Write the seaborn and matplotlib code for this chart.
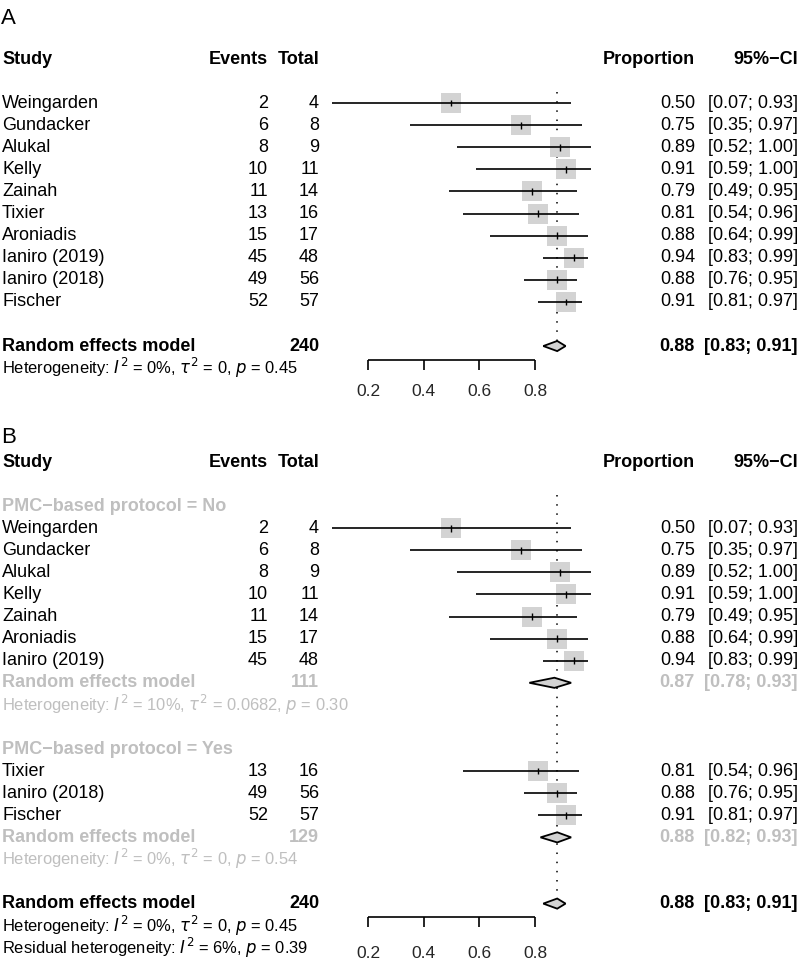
import numpy as np
import pandas as pd
import seaborn as sns
import matplotlib.pyplot as plt
from matplotlib.transforms import blended_transform_factory

# ---- data ----
studies = ['Weingarden', 'Gundacker', 'Alukal', 'Kelly', 'Zainah', 'Tixier',
           'Aroniadis', 'Ianiro (2019)', 'Ianiro (2018)', 'Fischer']
events = [2, 6, 8, 10, 11, 13, 15, 45, 49, 52]
totals = [4, 8, 9, 11, 14, 16, 17, 48, 56, 57]
prop = [0.50, 0.75, 0.89, 0.91, 0.79, 0.81, 0.88, 0.94, 0.88, 0.91]
ci_lo = [0.07, 0.35, 0.52, 0.59, 0.49, 0.54, 0.64, 0.83, 0.76, 0.81]
ci_hi = [0.93, 0.97, 1.00, 1.00, 0.95, 0.96, 0.99, 0.99, 0.95, 0.97]
pmc = ['No', 'No', 'No', 'No', 'No', 'Yes', 'No', 'No', 'Yes', 'Yes']

# pooled estimates: (est, lo, hi, total)
overall = (0.88, 0.83, 0.91, 240)
sub_no = (0.87, 0.78, 0.93, 111)
sub_yes = (0.88, 0.82, 0.93, 129)
ticks = [0.2, 0.4, 0.6, 0.8]

het_all = r'Heterogeneity: $I^2$ = 0%, $\tau^2$ = 0, $p$ = 0.45'
het_no = r'Heterogeneity: $I^2$ = 10%, $\tau^2$ = 0.0682, $p$ = 0.30'
het_yes = r'Heterogeneity: $I^2$ = 0%, $\tau^2$ = 0, $p$ = 0.54'
het_resid = r'Residual heterogeneity: $I^2$ = 6%, $p$ = 0.39'

df = pd.DataFrame(dict(study=studies, events=events, total=totals, prop=prop,
                       lo=ci_lo, hi=ci_hi, pmc=pmc))

sns.set_style('white')
plt.rcParams['font.family'] = ['Liberation Sans', 'DejaVu Sans']
plt.rcParams['mathtext.fontset'] = 'custom'
plt.rcParams['mathtext.rm'] = 'Liberation Sans Narrow'
plt.rcParams['mathtext.it'] = 'Liberation Sans Narrow:italic'
plt.rcParams['mathtext.bf'] = 'Liberation Sans Narrow:bold'

W, H = 800, 963
fig = plt.figure(figsize=(8, 9.63), dpi=100)
GREY = '#BFBFBF'
SQ = '#D3D3D3'
FS = 13
NARROW = ['Liberation Sans Narrow', 'Liberation Sans', 'DejaVu Sans']

# x mapping: 0 -> 312.3 px, 1 -> 590.6 px
px0, ppu = 312.3, 278.3
xlim = (-px0 / ppu, (W - px0) / ppu)
ROW = 22.08


def make_ax(top_px, bot_px, header_px):
    ax = fig.add_axes([0, 1 - bot_px / H, 1, (bot_px - top_px) / H])
    ax.set_xlim(*xlim)
    ax.set_ylim((bot_px - header_px) / ROW, (top_px - header_px) / ROW)
    ax.axis('off')
    return ax


def txt(ax, xpx, r, s, ha='left', color='black', bold=False, size=FS, family=None):
    tr = blended_transform_factory(fig.transFigure, ax.transData)
    ax.text(xpx / W, r, s, transform=tr, ha=ha, va='center', color=color,
            fontsize=size, fontweight='bold' if bold else 'normal',
            family=family if family else plt.rcParams['font.family'])


def header(ax):
    txt(ax, 2, 0, 'Study', bold=True)
    txt(ax, 268, 0, 'Events', ha='right', bold=True)
    txt(ax, 319, 0, 'Total', ha='right', bold=True)
    txt(ax, 695, 0, 'Proportion', ha='right', bold=True)
    txt(ax, 798, 0, '95%\u2212CI', ha='right', bold=True)


def study_rows(ax, sub, rows):
    sub = sub.assign(row=rows)
    sns.scatterplot(data=sub, x='prop', y='row', marker='s', s=200, color=SQ,
                    linewidth=0, ax=ax, zorder=2, legend=False)
    ax.hlines(sub['row'], sub['lo'], sub['hi'], color='black', lw=1.2, zorder=3)
    ax.vlines(sub['prop'], sub['row'] - 0.15, sub['row'] + 0.15, color='black',
              lw=1.0, zorder=3)
    for _, d in sub.iterrows():
        txt(ax, 2, d.row, d.study)
        txt(ax, 268, d.row, str(d.events), ha='right')
        txt(ax, 319, d.row, str(d.total), ha='right')
        txt(ax, 695, d.row, f'{d.prop:.2f}', ha='right')
        txt(ax, 798, d.row, f'[{d.lo:.2f}; {d.hi:.2f}]', ha='right')


def pooled(ax, r, est, color, het):
    e, lo, hi, n = est
    h = 0.23
    ax.fill([lo, e, hi, e], [r, r - h, r, r + h], facecolor=SQ,
            edgecolor='black', lw=1.3, zorder=4)
    txt(ax, 2, r, 'Random effects model', color=color, bold=True)
    txt(ax, 319, r, str(n), ha='right', color=color, bold=True)
    txt(ax, 695, r, f'{e:.2f}', ha='right', color=color, bold=True)
    txt(ax, 798, r, f'[{lo:.2f}; {hi:.2f}]', ha='right', color=color, bold=True)
    for i, line in enumerate(het):
        txt(ax, 2, r + 1 + i, line, color=color, size=11.9, family=NARROW)


def xaxis(ax, r_line, r_lab):
    ax.hlines(r_line, ticks[0], ticks[-1], color='black', lw=1.2)
    ax.vlines(ticks, r_line, r_line + 0.46, color='black', lw=1.2)
    for t in ticks:
        ax.text(t, r_lab, f'{t:.1f}', ha='center', va='center', fontsize=12.5)


# ---- panel A ----
axA = make_ax(0, 420, 59)
txt(axA, 1, -1.84, 'A', size=16)
header(axA)
study_rows(axA, df, list(range(2, 12)))
axA.vlines(overall[0], 1.5, 13 - 0.23, color='black', lw=1.1,
           linestyles=(0, (1, 5)), zorder=1)
pooled(axA, 13, overall, 'black', [het_all])
xaxis(axA, 13.62, 15.05)

# ---- panel B ----
axB = make_ax(420, 963, 462)
txt(axB, 1, -1.13, 'B', size=16)
header(axB)
txt(axB, 2, 2, 'PMC\u2212based protocol = No', color=GREY, bold=True)
study_rows(axB, df[df.pmc == 'No'], list(range(3, 10)))
pooled(axB, 10, sub_no, GREY, [het_no])
txt(axB, 2, 13, 'PMC\u2212based protocol = Yes', color=GREY, bold=True)
study_rows(axB, df[df.pmc == 'Yes'], list(range(14, 17)))
pooled(axB, 17, sub_yes, GREY, [het_yes])
axB.vlines(overall[0], 1.5, 20 - 0.23, color='black', lw=1.1,
           linestyles=(0, (1, 5)), zorder=1)
pooled(axB, 20, overall, 'black', [het_all, het_resid])
xaxis(axB, 20.6, 22.25)

fig.savefig('out.png', dpi=100)
